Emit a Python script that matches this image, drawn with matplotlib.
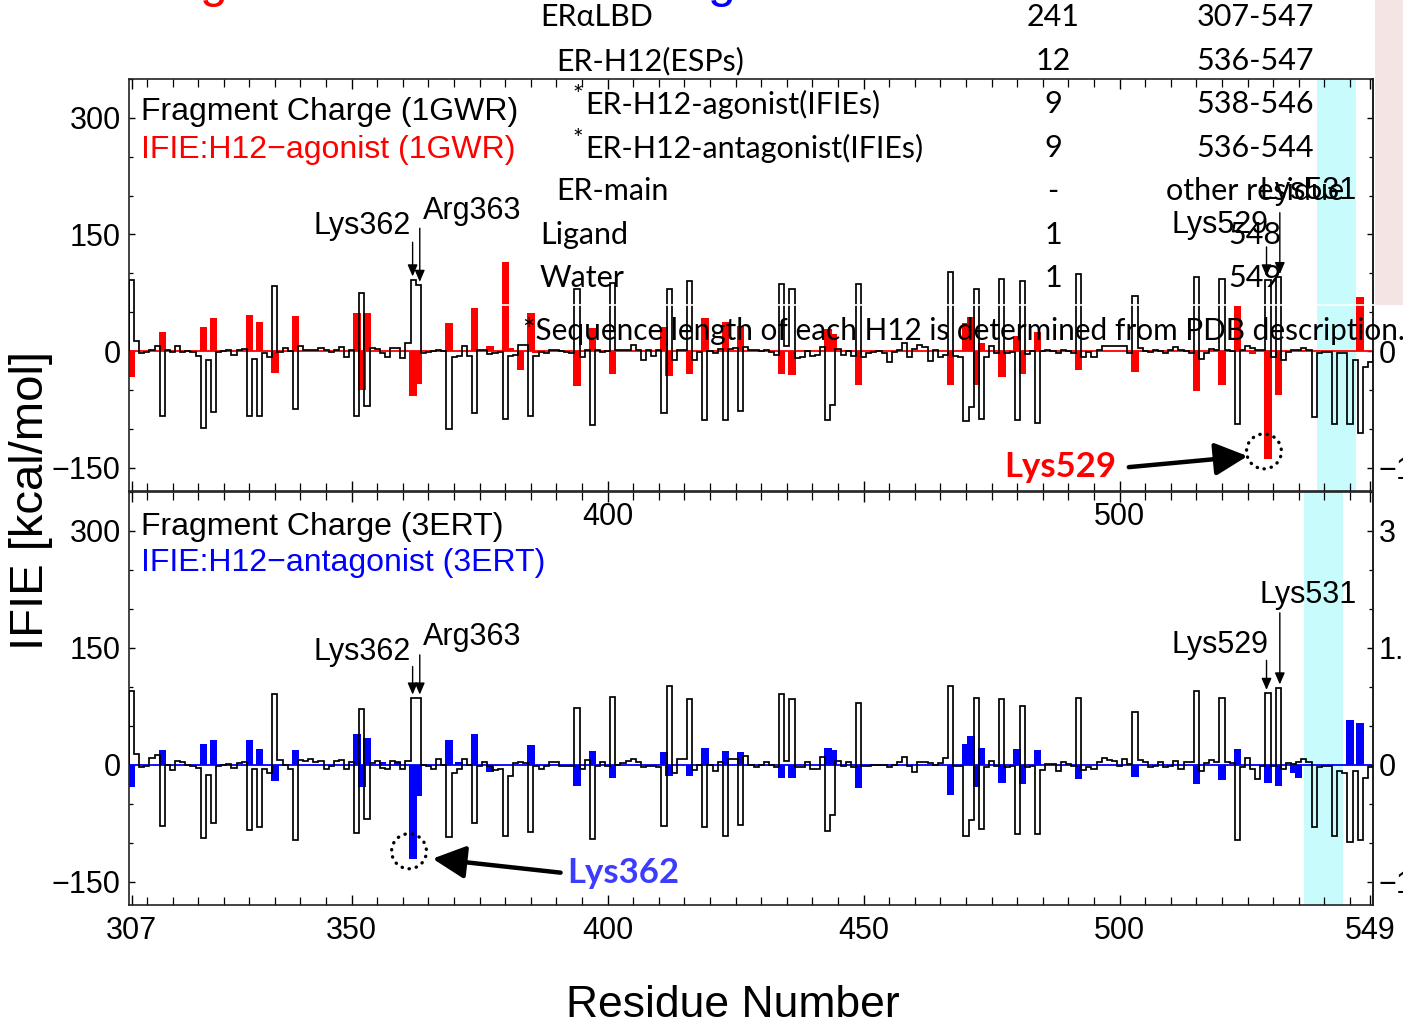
import numpy as np
import matplotlib
matplotlib.use("Agg")
import matplotlib.pyplot as plt
from matplotlib.patches import Ellipse, Rectangle
from matplotlib.lines import Line2D
from matplotlib.ticker import FixedLocator, MultipleLocator

W, H = 1403, 1023
plt.rcParams['font.family'] = ['Liberation Sans', 'DejaVu Sans']

# ---------------- data ----------------
residues = np.arange(307, 550)

# fragment charge profile (scaled x100), residues 307..549
charge_1gwr = [
    91, 13, -3, -1, 2, 6, -83, 1, -1, 6,
    -1, 0, -1, -6, -99, -12, -79, -1, 0, 2,
    -5, 2, 3, -84, -10, -84, -3, -7, 84, -1,
    4, 0, -74, 7, 1, 1, 2, 4, 2, -1,
    2, 5, -7, 2, -84, 75, -71, 4, 3, -3,
    -8, 4, 4, -9, 10, 92, 85, -3, -1, 0,
    2, 0, -100, -7, -6, 6, -6, -80, 2, 1,
    -4, -3, -1, -87, -6, -5, 8, 8, -83, -6,
    -1, -3, 2, 2, 0, -1, -3, 80, -7, 1,
    -95, 1, -1, 0, 87, 2, 1, 2, 8, 1,
    -11, 1, -6, 1, -80, 80, -12, 2, 2, 90,
    -12, -1, -89, 0, -3, 3, -89, 3, 4, -77,
    5, 2, 1, 0, 1, -1, -5, 86, 7, 80,
    -9, -7, 0, -6, -5, 5, -89, -69, 3, -5,
    0, -6, 86, -8, -3, -1, 0, -3, -14, -1,
    2, 10, -8, 3, 8, 5, -13, 2, -7, -5,
    102, -6, -7, -90, -72, 80, -87, -7, 6, -2,
    93, -3, -1, -89, 90, -4, 0, -93, 0, 1,
    0, -2, 1, 0, -3, 99, -8, -1, -7, 2,
    7, 6, 7, 6, 7, -3, 71, 4, 0, -1,
    1, 0, -3, 1, 5, 1, 0, -3, 95, -10,
    -3, 3, 2, 93, 1, 0, -94, 2, 6, 4,
    2, 1, 92, -7, 95, -12, -1, 1, 2, 4,
    1, -85, -3, -1, -1, -94, -3, -3, -94, -11,
    -106, -21, -14,
]

charge_3ert = [
    94, 14, -3, -2, 9, 12, -79, 0, -7, 5,
    3, 0, -2, -4, -94, -13, -75, -1, 0, 1,
    -4, 2, 3, -84, -6, -80, -5, -10, 91, 6,
    0, -5, -96, 6, 5, 8, 3, 5, -5, -1,
    5, 6, -6, 4, -87, 71, -70, 2, 5, -4,
    -5, 5, 4, -6, 5, 86, 86, 0, -2, -6,
    7, 0, -93, -10, -5, 8, 0, -75, -2, 3,
    -2, -7, -6, -91, -15, 2, 3, 2, -86, -2,
    -5, -2, 3, 3, -2, -2, -1, 73, -6, 6,
    -95, -2, 4, -2, 87, 0, 2, 5, 7, 3,
    -3, -2, -2, -3, -79, 101, -11, 7, 7, 84,
    -7, 0, -80, 0, -8, 4, -91, 8, 7, -77,
    11, 0, -3, 0, 3, 0, -3, 91, 5, 84,
    -3, -3, 4, -6, -5, 10, -85, -65, 5, -2,
    4, -3, 79, -2, -2, 0, 0, 0, -3, 0,
    3, 10, -2, -9, 3, 4, 2, 0, 2, 9,
    101, -2, -2, -92, -71, 85, -82, -3, 5, -2,
    84, -3, -1, -89, 76, -3, -1, -89, -7, 1,
    1, -8, 4, 1, -1, 86, -7, -3, -6, 4,
    9, 6, 5, -2, 7, 1, 68, 6, 3, -3,
    -1, 3, -3, -2, 5, -5, 3, 3, 94, -8,
    2, 6, 4, 86, 3, 2, -96, -3, 9, -5,
    -18, -1, 92, -1, 99, -5, 2, 1, 3, 7,
    4, -80, -3, -2, -1, -91, -8, -11, -99, -8,
    -96, -17, -3,
]

# IFIE between H12 and each residue [kcal/mol]
agonist_res = [307, 313, 321, 323, 330, 332, 335, 339, 351, 352, 353, 362, 363,
               369, 374, 377, 380, 381, 383, 385, 386, 394, 397, 401, 411, 412,
               416, 419, 423, 426, 434, 436, 443, 444, 449, 467, 470, 471, 472,
               473, 477, 480, 481, 484, 492, 503, 515, 520, 523, 526, 529, 531,
               535, 536, 547]
agonist_ifie = [-33, 25, 31, 42, 46, 37, -28, 45, 49, -50, 49, -58, -42,
                36, 56, 7, 114, 4, -24, 49, -3, -45, 30, -29, 31, -32,
                -29, 42, 38, 32, -29, -31, 29, 22, -44, -44, 36, 44, -43,
                10, -33, 20, -29, 25, -24, -27, -52, -43, 58, -4, -139, -56,
                2, 2, 70]

antagonist_res = [307, 313, 321, 323, 330, 332, 335, 339, 351, 352, 353, 356, 359,
                  362, 363, 369, 371, 374, 377, 378, 385, 394, 397, 401, 411, 412,
                  416, 419, 423, 426, 434, 436, 443, 444, 449, 467, 470, 471, 472,
                  473, 477, 480, 481, 484, 492, 503, 515, 520, 523, 529, 531, 534,
                  535, 545, 547]
antagonist_ifie = [-28, 19, 26, 32, 32, 20, -21, 19, 40, -28, 34, 3, 3,
                   -121, -40, 32, 3, 40, -9, -2, 25, -27, 17, -17, 16, -15,
                   -15, 21, 18, 16, -17, -17, 21, 19, -30, -39, 26, 37, -28,
                   22, -23, 20, -25, 19, -18, -16, -25, -20, 20, -23, -27, -10,
                   -17, 57, 54]

x_ticks = [307, 350, 400, 450, 500, 549]
y_ticks = [-150, 0, 150, 300]
right_labels = ['\u22121.5', '0', '1.5', '3']

table_names = ['ER\u03b1LBD', 'ER-H12(ESPs)', 'ER-H12-agonist(IFIEs)',
               'ER-H12-antagonist(IFIEs)', 'ER-main', 'Ligand', 'Water']
table_counts = ['241', '12', '9', '9', '-', '1', '1']
table_ranges = ['307-547', '536-547', '538-546', '536-544', 'other residue', '548', '549']
table_footnote = '*Sequence length of each H12 is determined from PDB description.'

# ---------------- figure ----------------
fig = plt.figure(figsize=(W / 100, H / 100), dpi=100)
fig.patch.set_facecolor('white')


def fx(px):
    return px / W


def fy(py):
    return 1 - py / H


ax1 = fig.add_axes([fx(129), fy(491), fx(1373) - fx(129), fy(79) - fy(491)])
ax2 = fig.add_axes([fx(129), fy(905), fx(1373) - fx(129), fy(492) - fy(905)])

edges = np.append(residues - 0.5, residues[-1] + 0.5)
TICK_FS = 22


def draw_panel(ax, charge, ires, ival, color, shade, xlabels):
    ax.set_facecolor('none')
    ax.set_xlim(306.5, 549.5)
    ax.set_ylim(-180, 350)
    ax.axvspan(shade[0], shade[1], color='#c8fbfb', lw=0, zorder=0)
    ax.bar(ires, ival, width=1.45, color=color, lw=0, zorder=2)
    ax.axhline(0, color=color, lw=1.3, zorder=2.5)
    ax.stairs(charge, edges, baseline=0, color='black', lw=1.25, zorder=3)

    for s in ax.spines.values():
        s.set_linewidth(1.2)
        s.set_color('#222222')

    ax.xaxis.set_major_locator(FixedLocator(x_ticks))
    ax.xaxis.set_minor_locator(MultipleLocator(5))
    ax.set_xticklabels(xlabels)
    ax.tick_params(axis='x', which='both', direction='in', top=True, bottom=True,
                   labelsize=TICK_FS, pad=8)
    ax.tick_params(axis='x', which='major', length=7, width=1)
    ax.tick_params(axis='x', which='minor', length=5.5, width=0.9)

    ax.yaxis.set_major_locator(FixedLocator(y_ticks))
    ax.yaxis.set_minor_locator(MultipleLocator(50))
    ax.tick_params(axis='y', which='both', direction='in', left=True, right=False,
                   labelsize=TICK_FS, pad=6)
    ax.tick_params(axis='y', which='major', length=4.5, width=1)
    ax.tick_params(axis='y', which='minor', length=3, width=0.9)

    sec = ax.secondary_yaxis('right')
    sec.set_yticks(y_ticks, labels=right_labels)
    sec.yaxis.set_minor_locator(MultipleLocator(50))
    sec.tick_params(axis='y', which='both', direction='in', labelsize=TICK_FS, pad=4)
    sec.tick_params(axis='y', which='major', length=4.5, width=1)
    sec.tick_params(axis='y', which='minor', length=3, width=0.9)
    sec.spines['right'].set_linewidth(1.2)


draw_panel(ax1, charge_1gwr, agonist_res, agonist_ifie, '#ff0000',
           (538.6, 546.2), ['', '', '400', '', '500', ''])
draw_panel(ax2, charge_3ert, antagonist_res, antagonist_ifie, '#0000ff',
           (536.1, 543.7), [str(t) for t in x_ticks])

LEG_FS = 23
ax1.text(0.0096, 0.92, 'Fragment Charge (1GWR)', transform=ax1.transAxes,
         fontsize=LEG_FS, va='center', ha='left', zorder=6)
ax1.text(0.0096, 0.828, 'IFIE:H12\u2212agonist (1GWR)', transform=ax1.transAxes,
         fontsize=LEG_FS, va='center', ha='left', color='#ff0000', zorder=6)
ax2.text(0.0096, 0.915, 'Fragment Charge (3ERT)', transform=ax2.transAxes,
         fontsize=LEG_FS, va='center', ha='left', zorder=6)
ax2.text(0.0096, 0.828, 'IFIE:H12\u2212antagonist (3ERT)', transform=ax2.transAxes,
         fontsize=LEG_FS, va='center', ha='left', color='#0000ff', zorder=6)

# residue call-outs with thin arrows
small_arrow = dict(arrowstyle='-|>,head_length=0.7,head_width=0.3', lw=1.0,
                   color='black', shrinkA=0, shrinkB=0, mutation_scale=10)


def callout(ax, charge, res, dx, top, label, lx, ly, ha):
    tip = charge[res - 307] + 4
    ax.annotate('', xy=(res + dx, tip), xytext=(res + dx, top),
                arrowprops=small_arrow, zorder=5)
    ax.text(lx, ly, label, fontsize=LEG_FS - 1, ha=ha, va='center', zorder=6)


callout(ax1, charge_1gwr, 362, -0.1, 140, 'Lys362', 361.5, 161, 'right')
callout(ax1, charge_1gwr, 363, 0.3, 158, 'Arg363', 364.0, 180, 'left')
callout(ax1, charge_1gwr, 529, -0.3, 134, 'Lys529', 529.1, 162, 'right')
callout(ax1, charge_1gwr, 531, 0.3, 178, 'Lys531', 536.8, 206, 'center')
callout(ax2, charge_3ert, 362, -0.1, 126, 'Lys362', 361.5, 145, 'right')
callout(ax2, charge_3ert, 363, 0.3, 141, 'Arg363', 364.0, 164, 'left')
callout(ax2, charge_3ert, 529, -0.3, 134, 'Lys529', 529.1, 154, 'right')
callout(ax2, charge_3ert, 531, 0.3, 195, 'Lys531', 536.8, 218, 'center')

# highlighted minima: dotted ring, bold arrow and label
big_arrow = dict(arrowstyle='-|>,head_length=1.0,head_width=0.5', lw=3.2,
                 color='black', shrinkA=0, shrinkB=0, mutation_scale=20)


def highlight(ax, res, val, color, label, tail, head, lx, ly, ha):
    ring = Ellipse((res - 0.8, val + 10), width=6.8, height=45, fill=False,
                   edgecolor='black', lw=2.4, linestyle=(0, (0.1, 2.1)),
                   capstyle='round', zorder=5)
    ax.add_patch(ring)
    ax.annotate('', xy=head, xytext=tail, arrowprops=big_arrow, zorder=5)
    ax.text(lx, ly, label, color=color, fontsize=25, fontweight='bold',
            family=['Lato', 'DejaVu Sans'], ha=ha, va='center', zorder=6)


highlight(ax1, 529, agonist_ifie[agonist_res.index(529)], '#ff0000', 'Lys529',
          (501.8, -149.3), (525.0, -135.1), 499.4, -149.3, 'right')
highlight(ax2, 362, antagonist_ifie[antagonist_res.index(362)], '#3c3cff', 'Lys362',
          (390.8, -138.5), (365.8, -120.5), 392.2, -139.0, 'left')

# axis titles
fig.text(fx(31), fy(500), 'IFIE [kcal/mol]', rotation=90, fontsize=34,
         ha='center', va='center')
fig.text(fx(733), fy(1017), 'Residue Number', fontsize=32, ha='center',
         va='baseline')

# fragment table laid over the upper panel
TFONT = ['Lato', 'DejaVu Sans']
TFS = 22
fig.add_artist(Line2D([fx(500), fx(1375)], [fy(305), fy(305)], color='white',
                      lw=1.2, zorder=7))
fig.add_artist(Rectangle((fx(1375), fy(305)), fx(1403) - fx(1375), 305 / H,
                         transform=fig.transFigure, facecolor='#f4e4e4',
                         edgecolor='none', zorder=8))
name_x = [540, 556, 585, 585, 556, 540, 540]
row_y = [17, 61, 104, 148, 191, 235, 278]
for name, cnt, rng, nx, ry in zip(table_names, table_counts, table_ranges, name_x, row_y):
    fig.text(fx(nx), fy(ry), name, fontsize=TFS, family=TFONT, ha='left',
             va='center', zorder=9)
    fig.text(fx(1053), fy(ry), cnt, fontsize=TFS, family=TFONT, ha='center',
             va='center', zorder=9)
    fig.text(fx(1255), fy(ry), rng, fontsize=TFS, family=TFONT, ha='center',
             va='center', zorder=9)
    if 'IFIEs' in name:
        fig.text(fx(578), fy(ry - 8), '*', fontsize=18, family=TFONT,
                 ha='center', va='center', zorder=9)
fig.text(fx(523), fy(331), table_footnote, fontsize=21.4, family=TFONT,
         ha='left', va='center', zorder=9)

# title glyphs running off the top edge
fig.text(fx(214), fy(-3), 'g', color='#ff0000', fontsize=36, ha='center',
         va='baseline', zorder=9)
fig.text(fx(722), fy(-3), 'g', color='#0000ff', fontsize=36, ha='center',
         va='baseline', zorder=9)

fig.savefig('out.png', dpi=100)
